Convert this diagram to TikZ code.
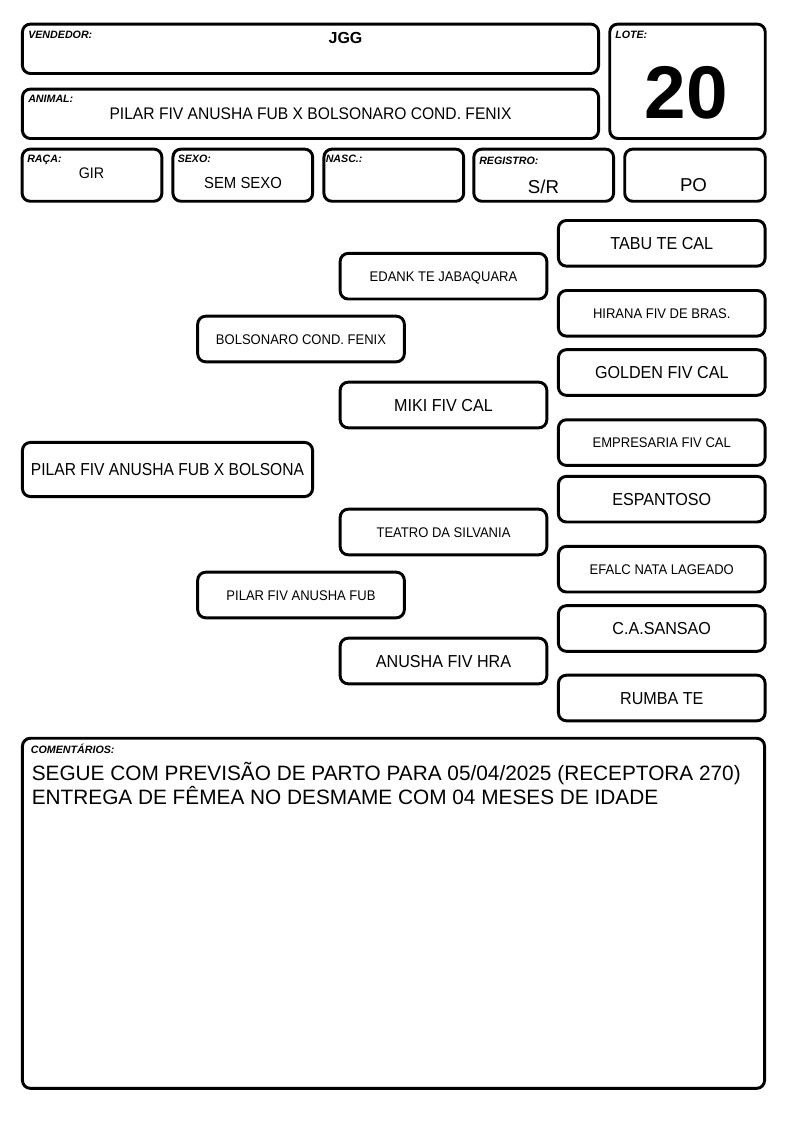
\documentclass[tikz,border=0pt]{standalone}
\usepackage{fontspec}
\setmainfont{Liberation Sans}
\newfontfamily\nar{Liberation Sans}[FakeStretch=0.93]
\newfontfamily\narr{Liberation Sans}[FakeStretch=0.9]
\newcommand{\fs}[1]{\fontsize{#1}{#1}\selectfont}
\tikzset{
  box/.style={draw, line width=2.2pt, rounded corners=6pt, inner sep=0pt},
  lab/.style={font=\fs{8}\bfseries\itshape, anchor=base west, inner sep=0pt},
  pbox/.style={box, minimum width=155pt, minimum height=34.2pt, text depth=0pt},
  hbox/.style={box, minimum width=104.8pt, minimum height=39.1pt},
  bigt/.style={font=\nar\fs{13}, text height=9.3pt},
  smallt/.style={font=\nar\fs{10.5}, text height=7.5pt},
  txt/.style={inner sep=0pt, anchor=base},
}
\begin{document}
\begin{tikzpicture}[x=0.75pt,y=-0.75pt]
\useasboundingbox (0,0) rectangle (794,1123);
% header
\node[box, minimum width=432.1pt, minimum height=37.05pt] (vend) at (310.5,48.8) {};
\node[lab] (vendl) at (28,39) {VENDEDOR:};
\node[txt, font=\fs{12}\bfseries] (vendt) at (345.5,43.3) {JGG};
\node[box, minimum width=116.6pt, minimum height=85.8pt] (lote) at (687.5,81.3) {};
\node[lab] (lotel) at (615,39) {LOTE:};
\node[txt, font=\fs{56}\bfseries] (lotet) at (686.5,119) {20};
\node[box, minimum width=432.1pt, minimum height=37.05pt] (anim) at (310.5,113.8) {};
\node[lab] (animl) at (28,103) {ANIMAL:};
\node[txt, font=\nar\fs{12.6}] (animt) at (310.5,119.3) {PILAR FIV ANUSHA FUB X BOLSONARO COND. FENIX};
\node[hbox] (raca) at (92,175.2) {};
\node[lab] (racal) at (27,163) {RAÇA:};
\node[txt, font=\nar\fs{11.5}] (racat) at (91.5,178.3) {GIR};
\node[hbox] (sexo) at (242.8,175.2) {};
\node[lab] (sexol) at (177.5,163) {SEXO:};
\node[txt, font=\nar\fs{12}] (sexot) at (243,189) {SEM SEXO};
\node[hbox] (nasc) at (393.8,175.2) {};
\node[lab] (nascl) at (325.5,163) {NASC.:};
\node[hbox] (reg) at (543.7,175.2) {};
\node[lab] (regl) at (479,164.5) {REGISTRO:};
\node[txt, font=\fs{14}] (regt) at (543.5,193.3) {S/R};
\node[hbox, minimum width=105.4pt] (po) at (695,175.2) {};
\node[txt, font=\fs{14}] (pot) at (693.5,192) {PO};
% pedigree
\node[pbox, bigt] (tabu) at (661.75,243.3) {TABU TE CAL};
\node[pbox, smallt] (edank) at (443.5,276.2) {EDANK TE JABAQUARA};
\node[pbox, smallt] (hirana) at (661.75,313.3) {HIRANA FIV DE BRAS.};
\node[pbox, smallt] (bolso) at (301,339) {BOLSONARO COND. FENIX};
\node[pbox, bigt] (golden) at (661.75,372.5) {GOLDEN FIV CAL};
\node[pbox, bigt] (miki) at (443.5,405) {MIKI FIV CAL};
\node[pbox, smallt] (empre) at (661.75,442.6) {EMPRESARIA FIV CAL};
\node[box, minimum width=217.6pt, minimum height=40.6pt, text depth=0pt, text height=9.3pt, font=\narr\fs{13}] (pilar) at (167.5,469.5) {PILAR FIV ANUSHA FUB X BOLSONA};
\node[pbox, bigt] (espan) at (661.75,499.2) {ESPANTOSO};
\node[pbox, smallt] (teatro) at (443.5,532) {TEATRO DA SILVANIA};
\node[pbox, smallt] (efalc) at (661.75,569.2) {EFALC NATA LAGEADO};
\node[pbox, smallt] (pilarf) at (301,595) {PILAR FIV ANUSHA FUB};
\node[pbox, bigt] (sansao) at (661.75,628.5) {C.A.SANSAO};
\node[pbox, bigt] (anusha) at (443.5,661) {ANUSHA FIV HRA};
\node[pbox, bigt] (rumba) at (661.75,698) {RUMBA TE};
% comments
\node[box, minimum width=556.6pt, minimum height=262.6pt] (coment) at (393.5,913.3) {};
\node[lab] (comentl) at (30.7,753) {COMENTÁRIOS:};
\node[txt, anchor=base west, font=\fs{15.6}] (coment1) at (31.5,780.5)
  {SEGUE COM PREVISÃO DE PARTO PARA 05/04/2025 (RECEPTORA 270)};
\node[txt, anchor=base west, font=\fs{15.6}] (coment2) at (31.5,804.5)
  {ENTREGA DE FÊMEA NO DESMAME COM 04 MESES DE IDADE};
\end{tikzpicture}
\end{document}
